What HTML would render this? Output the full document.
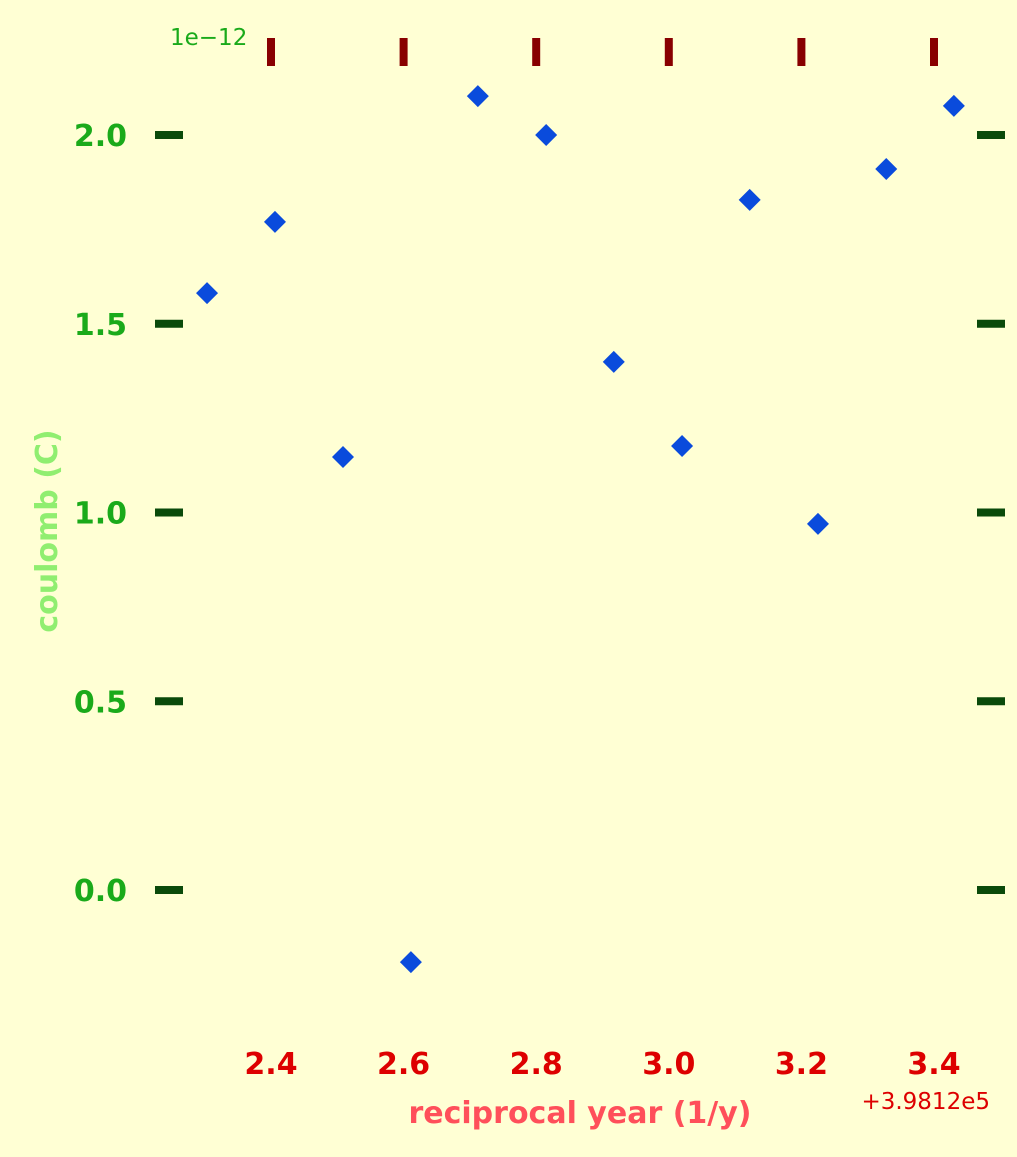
<!DOCTYPE html>
<html><head><meta charset="utf-8"><style>
html,body{margin:0;padding:0;background:#ffffd4;}
svg{display:block;}
</style></head><body>
<svg id="chart" width="1017" height="1157" xmlns="http://www.w3.org/2000/svg" font-family="'DejaVu Sans','Liberation Sans',sans-serif">
<rect x="0" y="0" width="1017" height="1157" fill="#ffffd4"/>
<g id="ticks"></g><g id="marks"></g>
<text x="170" y="45" font-size="23" fill="#1aaa1a">1e−12</text>
<text x="990" y="1109" font-size="23" fill="#dd0000" text-anchor="end">+3.9812e5</text>
<text x="580" y="1123" font-size="30" font-weight="bold" fill="#ff4f5a" text-anchor="middle">reciprocal year (1/y)</text>
<text transform="translate(57,531) rotate(-90)" font-size="30" font-weight="bold" fill="#90ee70" text-anchor="middle">coulomb (C)</text>
</svg>
<script>
const xValues=[2.3035,2.406,2.5086,2.611,2.712,2.815,2.917,3.020,3.122,3.225,3.328,3.430];
const yValues=[1.581,1.770,1.147,-0.191,2.103,2.0,1.399,1.176,1.828,0.970,1.910,2.077];
const xTicks=[2.4,2.6,2.8,3.0,3.2,3.4];
const xTickLabels=["2.4","2.6","2.8","3.0","3.2","3.4"];
const yTicks=[0,0.5,1.0,1.5,2.0];
const yTickLabels=["0.0","0.5","1.0","1.5","2.0"];
const NS="http://www.w3.org/2000/svg";
function sx(v){return 271+(v-2.4)*663;}
function sy(v){return 890-v*377.5;}
function mk(tag,attrs,parent){const e=document.createElementNS(NS,tag);for(const k in attrs)e.setAttribute(k,attrs[k]);parent.appendChild(e);return e;}
const tg=document.getElementById('ticks'),mg=document.getElementById('marks');
xTicks.forEach((v,i)=>{
  const t=mk('rect',{x:sx(v)-4,y:38,width:8,height:28,fill:'#880000'},tg);
  
  
  const l=mk('text',{x:sx(v),y:1074,'font-size':30,'font-weight':'bold',fill:'#dd0000','text-anchor':'middle'},tg);
  l.textContent=xTickLabels[i];
  
  
});
yTicks.forEach((v,i)=>{
  const y=sy(v);
  const a=mk('rect',{x:155,y:y-4,width:28,height:8,fill:'#0a4a0a'},tg);
  
  
  const b=mk('rect',{x:977,y:y-4,width:28,height:8,fill:'#0a4a0a'},tg);
  
  
  const l=mk('text',{x:127,y:y+11,'font-size':30,'font-weight':'bold',fill:'#1aaa1a','text-anchor':'end'},tg);
  l.textContent=yTickLabels[i];
  
  
});
xValues.forEach((xv,i)=>{
  const cx=sx(xv),cy=sy(yValues[i]);
  const p=mk('polygon',{points:`${cx},${cy-11} ${cx+11},${cy} ${cx},${cy+11} ${cx-11},${cy}`,fill:'#0a4bdc'},mg);
  
  
});
</script>
</body></html>
